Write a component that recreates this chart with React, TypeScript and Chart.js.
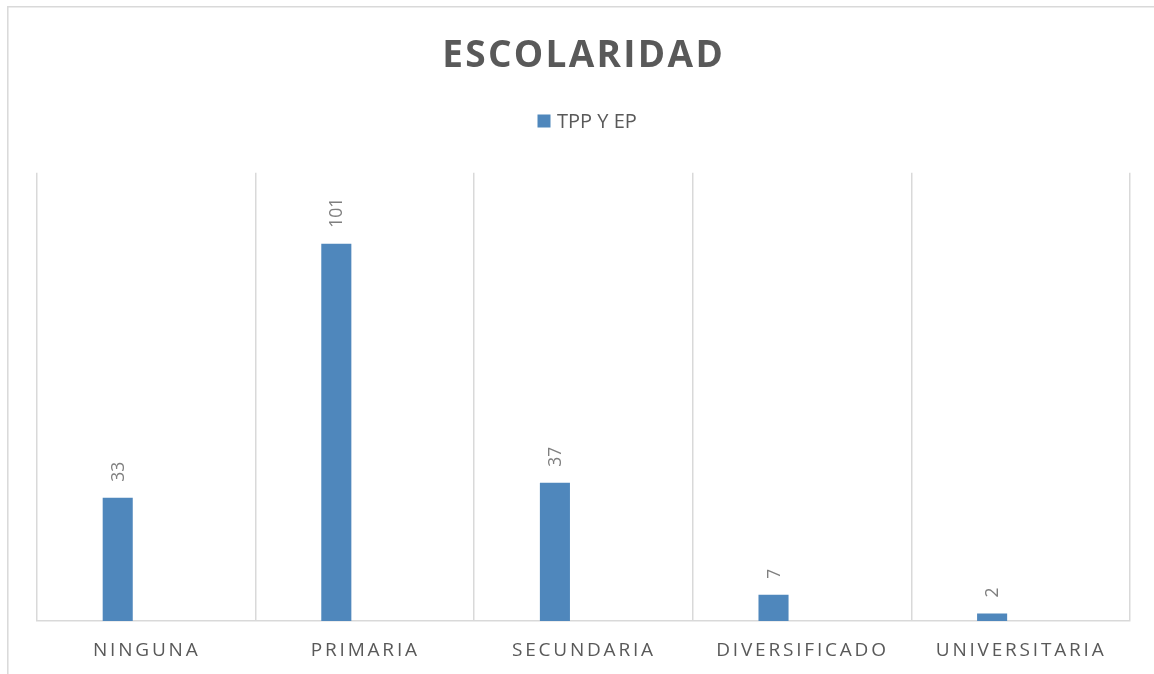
import React, { useEffect, useRef } from "react";
import { Chart, registerables } from "chart.js";

Chart.register(...registerables);

const categories = ["NINGUNA", "PRIMARIA", "SECUNDARIA", "DIVERSIFICADO", "UNIVERSITARIA"];
const seriesName = "TPP Y EP";
const seriesValues = [33, 101, 37, 7, 2];
const emptySeries = [null, null, null, null, null];
const chartTitle = "ESCOLARIDAD";

const FONT = '"Open Sans", "Liberation Sans", sans-serif';
const BAR = "#4f87bc";
const GRID = "#d9d9d9";

function drawSpaced(ctx: CanvasRenderingContext2D, text: string, cx: number, baseline: number, spacing: number) {
  (ctx as any).letterSpacing = spacing + "px";
  const w = ctx.measureText(text).width - spacing;
  ctx.textAlign = "left";
  ctx.textBaseline = "alphabetic";
  ctx.fillText(text, cx - w / 2, baseline);
  (ctx as any).letterSpacing = "0px";
}

const overlay = {
  id: "overlay",
  beforeDraw(chart: any) {
    const ctx = chart.ctx as CanvasRenderingContext2D;
    ctx.save();
    ctx.fillStyle = "#ffffff";
    ctx.fillRect(0, 0, chart.width, chart.height);
    ctx.strokeStyle = GRID;
    ctx.lineWidth = 1.5;
    ctx.beginPath();
    ctx.moveTo(7.8, chart.height);
    ctx.lineTo(7.8, 6.8);
    ctx.lineTo(chart.width, 6.8);
    ctx.stroke();
    ctx.restore();
  },
  afterDraw(chart: any) {
    const ctx = chart.ctx as CanvasRenderingContext2D;
    ctx.save();
    // title
    ctx.fillStyle = "#595959";
    ctx.font = `bold 37px ${FONT}`;
    drawSpaced(ctx, chartTitle, 582.5, 66.5, 2.3);
    // legend
    ctx.fillStyle = BAR;
    ctx.fillRect(537.5, 114.5, 13, 13);
    ctx.fillStyle = "#595959";
    ctx.font = `20px ${FONT}`;
    ctx.textAlign = "left";
    ctx.textBaseline = "alphabetic";
    ctx.fillText(seriesName, 557, 128.3);
    // x labels
    const xs = chart.scales.x;
    ctx.font = `19px ${FONT}`;
    ctx.fillStyle = "#595959";
    categories.forEach((c, i) => {
      drawSpaced(ctx, c, xs.getPixelForValue(i) - 1, 656, 2.8);
    });
    // data labels
    const meta = chart.getDatasetMeta(0);
    ctx.font = `17.5px ${FONT}`;
    ctx.fillStyle = "#7f7f7f";
    meta.data.forEach((el: any, i: number) => {
      ctx.save();
      ctx.translate(el.x + 1, el.y - 16);
      ctx.rotate(-Math.PI / 2);
      ctx.textAlign = "left";
      ctx.textBaseline = "middle";
      ctx.fillText(String(seriesValues[i]), 0, 0);
      ctx.restore();
    });
    ctx.restore();
  },
};

export default function App() {
  const ref = useRef<HTMLCanvasElement>(null);
  useEffect(() => {
    if (!ref.current) return;
    const chart = new Chart(ref.current, {
      type: "bar",
      data: {
        labels: categories,
        datasets: [
          { label: seriesName, data: seriesValues, backgroundColor: BAR, categoryPercentage: 0.523, barPercentage: 0.526 },
          { label: "", data: emptySeries as any, backgroundColor: BAR, categoryPercentage: 0.523, barPercentage: 0.526 },
        ],
      },
      options: {
        responsive: false,
        animation: false,
        devicePixelRatio: 1,
        layout: { padding: { left: 37, right: 24, top: 172.7, bottom: 53 } },
        plugins: { legend: { display: false }, title: { display: false }, tooltip: { enabled: false } },
        scales: {
          x: {
            grid: { display: true, color: GRID, lineWidth: 1.5, drawTicks: false, offset: true },
            border: { display: true, color: GRID, width: 1.5 },
            ticks: { display: false },
          },
          y: { display: false, min: 0, max: 120 },
        },
      },
      plugins: [overlay],
    });
    return () => chart.destroy();
  }, []);
  return (
    <div style={{ position: "fixed", left: 0, top: 0, width: 1154, height: 674, overflow: "hidden", background: "#fff" }}>
      <canvas ref={ref} width={1154} height={674} style={{ display: "block" }} />
    </div>
  );
}
